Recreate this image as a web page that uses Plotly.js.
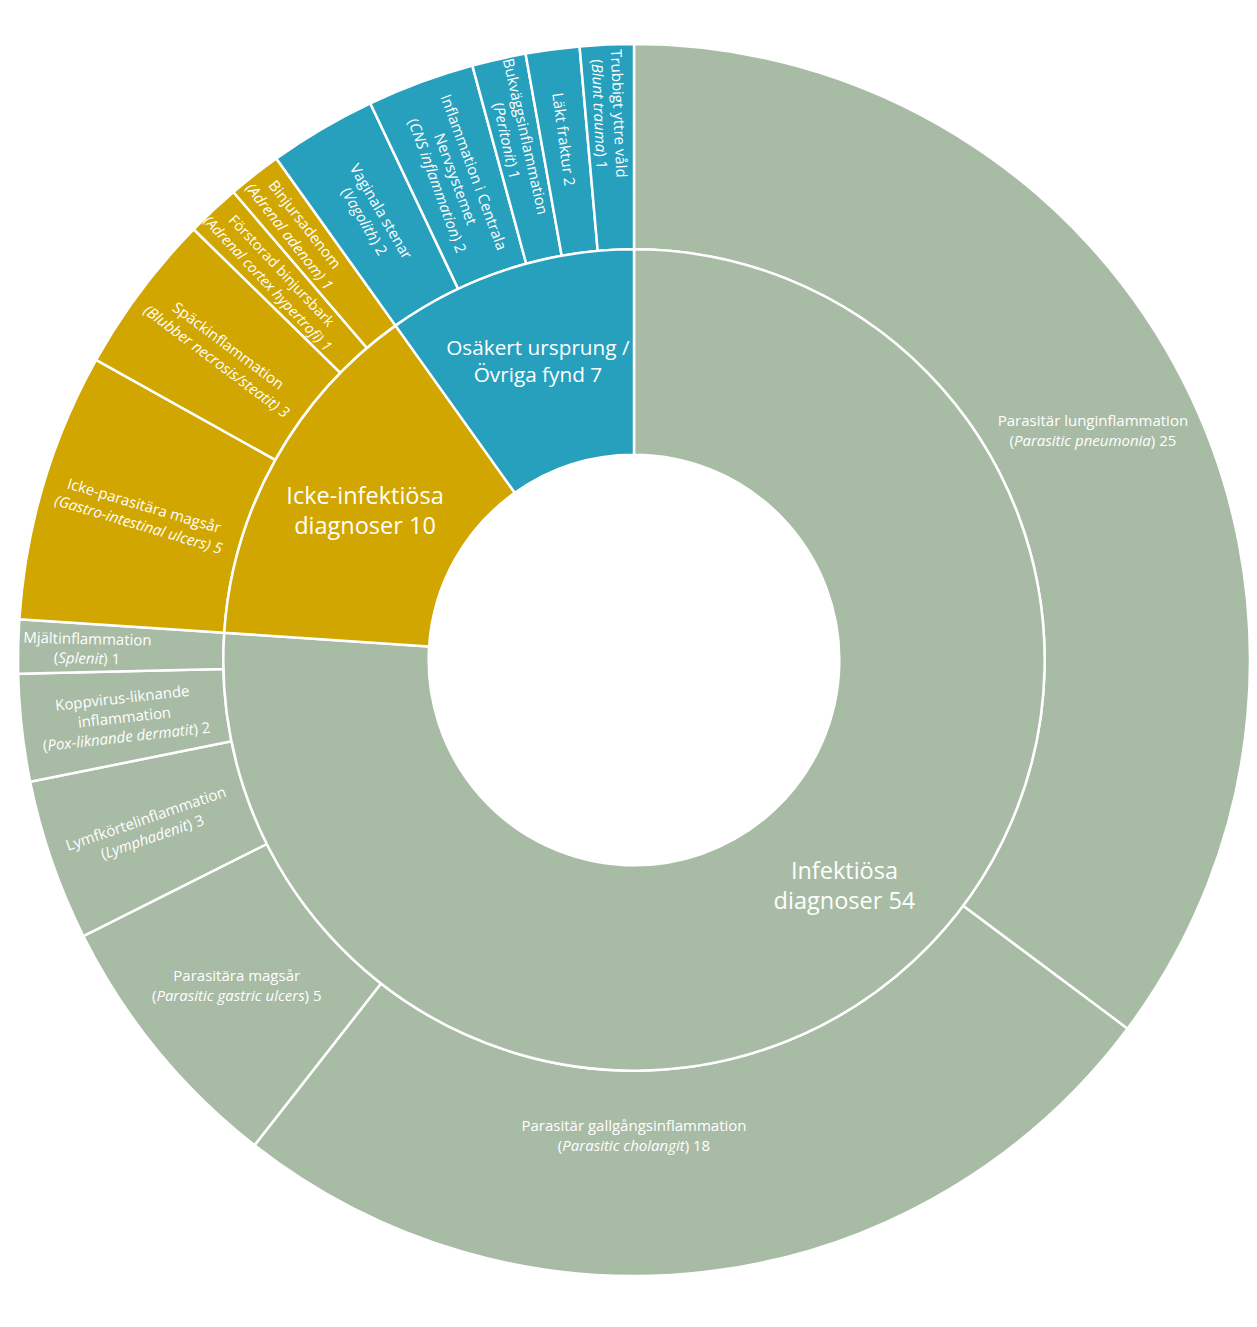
<!DOCTYPE html>
<html>
<head>
<meta charset="utf-8">
<script src="https://cdn.plot.ly/plotly-3.0.1.min.js"></script>
<style>html,body{margin:0;padding:0;background:#fff;}#chart{width:1257px;height:1327px;}</style>
</head>
<body>
<div id="chart"></div>
<script>
// Inner ring: diagnosis groups (clockwise from 12 o'clock)
const groupIds = ["inf", "nonInf", "other"];
const groupLabels = ["Infektiösa<br>diagnoser 54", "Icke-infektiösa<br>diagnoser 10", "Osäkert ursprung /<br>Övriga fynd 7"];
const groupValues = [54, 10, 7];
const groupColors = ["#A8BBA5", "#D2A600", "#27A0BE"];

// Outer ring: individual diagnoses (clockwise from 12 o'clock)
const diagParents = ["inf","inf","inf","inf","inf","inf",
                     "nonInf","nonInf","nonInf","nonInf",
                     "other","other","other","other","other"];
const diagLabels = [
  "Parasitär lunginflammation<br>(<i>Parasitic pneumonia</i>) 25",
  "Parasitär gallgångsinflammation<br>(<i>Parasitic cholangit</i>) 18",
  "Parasitära magsår<br>(<i>Parasitic gastric ulcers</i>) 5",
  "Lymfkörtelinflammation<br>(<i>Lymphadenit</i>) 3",
  "Koppvirus-liknande<br>inflammation<br>(<i>Pox-liknande dermatit</i>) 2",
  "Mjältinflammation<br>(<i>Splenit</i>) 1",
  "Icke-parasitära magsår<br><i>(Gastro-intestinal ulcers) 5</i>",
  "Späckinflammation<br><i>(Blubber necrosis/steatit) 3</i>",
  "Förstorad binjursbark<br><i>(Adrenal cortex hypertrofi) 1</i>",
  "Binjursadenom<br><i>(Adrenal adenom) 1</i>",
  "Vaginala stenar<br>(<i>Vagolith</i>) 2",
  "Inflammation i Centrala<br>Nervsystemet<br>(<i>CNS inflammation</i>) 2",
  "Bukväggsinflammation<br>(<i>Peritonit</i>) 1",
  "Läkt fraktur 2",
  "Trubbigt yttre våld<br>(<i>Blunt trauma</i>) 1"
];
const diagValues = [25, 18, 5, 3, 2, 1, 5, 3, 1, 1, 2, 2, 1, 1, 1];

// style: which outer labels are written horizontally (the rest run radially)
const HORIZONTAL_OUTER = [0, 1, 2];
const FONT = "Open Sans, sans-serif";
const TXT = "#ffffff";
const CLEAR = "rgba(0,0,0,0)";
const diagColors = diagParents.map(p => groupColors[groupIds.indexOf(p)]);
const diagKeys = diagLabels.map((_, i) => "d" + i);

function ring(opts) {
  return Object.assign({
    type: "pie",
    textinfo: "text",
    textposition: "inside",
    sort: false, direction: "clockwise", rotation: 0,
    hoverinfo: "none",
    showlegend: false
  }, opts);
}

// inner ring (groups) with horizontal labels
const inner = ring({
  values: groupValues, labels: groupIds, text: groupLabels,
  hole: 0.5, domain: {x: [1/6, 5/6], y: [1/6, 5/6]},
  insidetextorientation: "horizontal",
  marker: {colors: groupColors, line: {color: "#ffffff", width: 2.5}},
  textfont: {family: FONT, size: 23.5, color: TXT},
  insidetextfont: {family: FONT, size: 23.5, color: TXT}
});

// outer ring (diagnoses) with radially written labels
const outerRadial = ring({
  values: diagValues, labels: diagKeys,
  text: diagLabels.map((t, i) => HORIZONTAL_OUTER.indexOf(i) >= 0 ? "" : t),
  hole: 2/3, domain: {x: [0, 1], y: [0, 1]},
  insidetextorientation: "radial",
  marker: {colors: diagColors, line: {color: "#ffffff", width: 2.5}},
  textfont: {family: FONT, size: 15, color: TXT},
  insidetextfont: {family: FONT, size: 15, color: TXT}
});

// transparent copy of the outer ring carrying the horizontal labels
const outerHorizontal = ring({
  values: diagValues, labels: diagKeys,
  text: diagLabels.map((t, i) => HORIZONTAL_OUTER.indexOf(i) >= 0 ? t : ""),
  hole: 2/3, domain: {x: [0, 1], y: [0, 1]},
  insidetextorientation: "horizontal",
  marker: {colors: diagKeys.map(() => CLEAR), line: {width: 0}},
  textfont: {family: FONT, size: 15, color: TXT},
  insidetextfont: {family: FONT, size: 15, color: TXT}
});

Plotly.newPlot("chart", [outerRadial, inner, outerHorizontal], {
  width: 1257, height: 1327,
  margin: {l: 18, r: 7, t: 44, b: 51},
  paper_bgcolor: "#ffffff",
  showlegend: false
}, {displayModeBar: false, staticPlot: true});
</script>
</body>
</html>
